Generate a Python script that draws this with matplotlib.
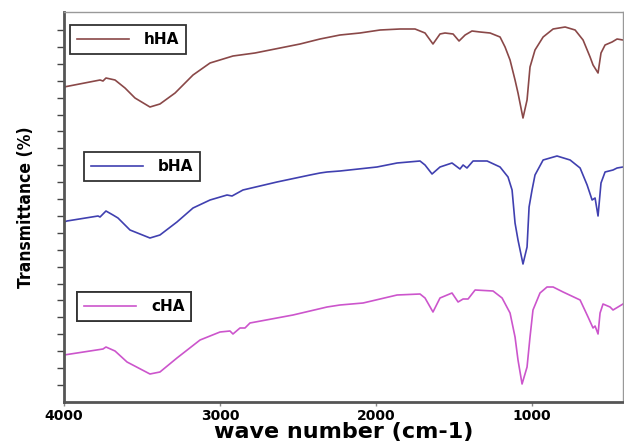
import numpy as np
import matplotlib
matplotlib.use('Agg')
import matplotlib.pyplot as plt

# FTIR spectra, offset for display (arbitrary transmittance units)
wn_h = [4000, 3769, 3750, 3731, 3673, 3609, 3545, 3449, 3385, 3288, 3173, 3064, 2917, 2776,
        2615, 2487, 2359, 2231, 2103, 1974, 1846, 1750, 1686, 1635, 1590, 1558, 1506, 1468,
        1429, 1385, 1333, 1269, 1205, 1173, 1141, 1109, 1090, 1058, 1032, 1013, 981, 929,
        865, 788, 724, 673, 628, 609, 577, 558, 532, 487, 455, 417]
t_h = [315, 322, 321, 324, 322, 314, 304, 295, 298, 309, 327, 339, 346, 349,
       354, 358, 363, 367, 369, 372, 373, 373, 369, 358, 368, 369, 368, 361,
       367, 371, 370, 369, 365, 355, 342, 322, 309, 284, 302, 335, 352, 365,
       373, 375, 372, 362, 345, 337, 329, 349, 357, 360, 363, 362]

wn_b = [4000, 3981, 3782, 3769, 3731, 3686, 3654, 3577, 3449, 3385, 3276, 3173, 3064, 2955,
        2923, 2853, 2635, 2423, 2359, 2314, 2231, 1994, 1865, 1718, 1686, 1641, 1590, 1513,
        1462, 1442, 1417, 1378, 1288, 1205, 1154, 1128, 1109, 1090, 1058, 1032, 1019, 1000,
        981, 929, 840, 756, 692, 647, 615, 596, 577, 558, 532, 481, 455, 417]
t_b = [180, 181, 186, 185, 191, 187, 184, 172, 164, 167, 180, 194, 202, 207,
       206, 212, 220, 227, 229, 230, 231, 235, 239, 241, 237, 228, 235, 239,
       233, 237, 234, 241, 241, 235, 225, 212, 179, 162, 138, 155, 195, 212,
       227, 242, 246, 242, 234, 217, 202, 204, 186, 219, 230, 232, 234, 235]

wn_c = [4000, 3750, 3731, 3673, 3596, 3449, 3385, 3276, 3128, 3000, 2936, 2917, 2872, 2840,
        2808, 2532, 2314, 2231, 2083, 1865, 1718, 1686, 1635, 1590, 1513, 1474, 1442, 1410,
        1365, 1250, 1192, 1141, 1109, 1090, 1064, 1032, 1013, 994, 949, 904, 865, 801,
        692, 641, 609, 596, 577, 564, 545, 500, 481, 417]
t_c = [47, 53, 55, 51, 40, 28, 30, 44, 62, 70, 71, 68, 74, 74,
       79, 87, 95, 97, 99, 107, 108, 104, 90, 104, 109, 100, 103, 103,
       112, 111, 104, 89, 65, 42, 18, 35, 65, 92, 109, 115, 115, 110,
       102, 85, 74, 76, 68, 89, 98, 95, 92, 98]

labels = ['hHA', 'bHA', 'cHA']
colors = ['#8a4848', '#4040b0', '#cc55cc']

fig = plt.figure(figsize=(6.24, 4.41), dpi=100)
ax = fig.add_axes([64 / 624, 39 / 441, 559 / 624, 390 / 441])

lines = []
for wn, t, c in zip([wn_h, wn_b, wn_c], [t_h, t_b, t_c], colors):
    ln, = ax.plot(wn, t, color=c, lw=1.2)
    lines.append(ln)

ax.set_xlim(4000, 417)
ax.set_ylim(0, 390)
ax.set_xticks([4000, 3000, 2000, 1000])
ax.set_xticklabels(['4000', '3000', '2000', '1000'], fontweight='bold', fontsize=10)
ax.set_yticks(np.linspace(17, 372, 22))
ax.set_yticklabels([])
ax.tick_params(axis='y', direction='out', length=5, width=1, color='#444444')
ax.tick_params(axis='x', direction='out', length=3, width=1, color='#888888', pad=2)

for s in ['left', 'bottom']:
    ax.spines[s].set_linewidth(2)
    ax.spines[s].set_color('#555555')
for s in ['top', 'right']:
    ax.spines[s].set_linewidth(1)
    ax.spines[s].set_color('#999999')

ax.set_xlabel('wave number (cm-1)', fontsize=16, fontweight='bold', labelpad=-1)
ax.set_ylabel('Transmittance (%)', fontsize=12.5, fontweight='bold', fontstretch='condensed')
ax.yaxis.set_label_coords(-29 / 559, 0.5)

# one framed legend per curve, placed in figure pixels
boxes = [(70, 25), (84, 152), (77, 292)]
for ln, lab, (bx, by) in zip(lines, labels, boxes):
    leg = ax.legend([ln], [lab], loc='upper left',
                    bbox_to_anchor=(bx / 624, 1 - by / 441),
                    bbox_transform=fig.transFigure, fancybox=False,
                    edgecolor='#333333', framealpha=1, handlelength=3.4,
                    borderpad=0.45, handletextpad=1.0, borderaxespad=0,
                    prop={'weight': 'bold', 'size': 11})
    leg.get_frame().set_linewidth(1.3)
    ax.add_artist(leg)

fig.savefig('out.png', dpi=100)
